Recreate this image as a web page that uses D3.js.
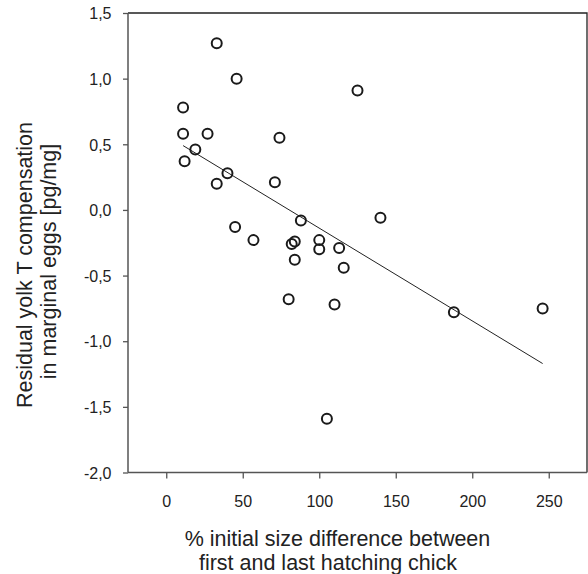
<!DOCTYPE html>
<html><head><meta charset="utf-8">
<script src="https://cdn.jsdelivr.net/npm/d3@7"></script>
<style>body{margin:0;background:#fff}svg{display:block}text{font-family:"Liberation Sans",Arial,sans-serif;fill:#222}</style>
</head><body>
<script>
const xValues = [33, 46, 11, 11, 27, 74, 19, 12, 40, 33, 71, 88, 45, 57, 82, 84, 100, 113, 100, 84, 116, 80, 110, 105, 125, 140, 188, 246];
const yValues = [1.27, 1.0, 0.78, 0.58, 0.58, 0.55, 0.46, 0.37, 0.28, 0.20, 0.21, -0.08, -0.13, -0.23, -0.26, -0.24, -0.23, -0.29, -0.30, -0.38, -0.44, -0.68, -0.72, -1.59, 0.91, -0.06, -0.78, -0.75];
const fitX = [11, 246];
const fitY = [0.49, -1.17];
const xTicks = [0, 50, 100, 150, 200, 250];
const yTicks = [1.5, 1.0, 0.5, 0.0, -0.5, -1.0, -1.5, -2.0];
const xTitle = ["% initial size difference between", "first and last hatching chick"];
const yTitle = ["Residual yolk T compensation", "in marginal eggs [pg/mg]"];

const W = 588, H = 574;
const L = 128, R = 587, T = 13, B = 472.5;
const svg = d3.select("body").append("svg").attr("width", W).attr("height", H);
const x = d3.scaleLinear().domain([-25, 275]).range([L, R]);
const y = d3.scaleLinear().domain([-2.0, 1.5]).range([B, T]);
const fmt = d => d3.format(".1f")(d).replace(".", ",").replace("−", "-");
const FONT = '"Liberation Sans",Arial,sans-serif';

// frame top/right
svg.append("path").attr("d", `M${L},${T}H${R}V${B}`).attr("fill", "none").attr("stroke", "#222").attr("stroke-width", 1.3);

const xa = svg.append("g").attr("transform", `translate(0,${B})`)
  .call(d3.axisBottom(x).tickValues(xTicks).tickSize(6).tickSizeOuter(0).tickFormat(d3.format("d")));
const ya = svg.append("g").attr("transform", `translate(${L},0)`)
  .call(d3.axisLeft(y).tickValues(yTicks).tickSize(5).tickSizeOuter(0).tickFormat(fmt));
[xa, ya].forEach(a => {
  a.select(".domain").attr("stroke", "#555").attr("stroke-width", 1.5);
  a.selectAll(".tick line").attr("stroke", "#555").attr("stroke-width", 1.3);
  a.selectAll("text").style("font-family", FONT).style("font-size", "16px").attr("fill", "#222");
});
xa.selectAll(".tick text").attr("y", 34).attr("dy", 0);
ya.selectAll(".tick text").attr("x", -16.5).attr("dy", "0.36em");
xa.select(".domain").attr("d", `M${L},0H${R}`);
ya.select(".domain").attr("d", `M0,${T}V${B}`);

// regression line
svg.append("line").attr("x1", x(fitX[0])).attr("y1", y(fitY[0])).attr("x2", x(fitX[1])).attr("y2", y(fitY[1]))
  .attr("stroke", "#222").attr("stroke-width", 1);

// points
svg.append("g").selectAll("circle").data(xValues.map((v, i) => [v, yValues[i]])).join("circle")
  .attr("cx", d => x(d[0])).attr("cy", d => y(d[1])).attr("r", 5)
  .attr("fill", "none").attr("stroke", "#1a1a1a").attr("stroke-width", 2);

// titles
const tfs = "21.5px";
svg.append("text").attr("x", 337.5).attr("y", 546).attr("text-anchor", "middle").style("font-size", tfs).text(xTitle[0]);
svg.append("text").attr("x", 328).attr("y", 570).attr("text-anchor", "middle").style("font-size", tfs).text(xTitle[1]);
svg.append("text").attr("transform", "translate(32,265) rotate(-90)").attr("text-anchor", "middle").style("font-size", tfs).text(yTitle[0]);
svg.append("text").attr("transform", "translate(56,261.5) rotate(-90)").attr("text-anchor", "middle").style("font-size", tfs).text(yTitle[1]);
</script>
</body></html>
